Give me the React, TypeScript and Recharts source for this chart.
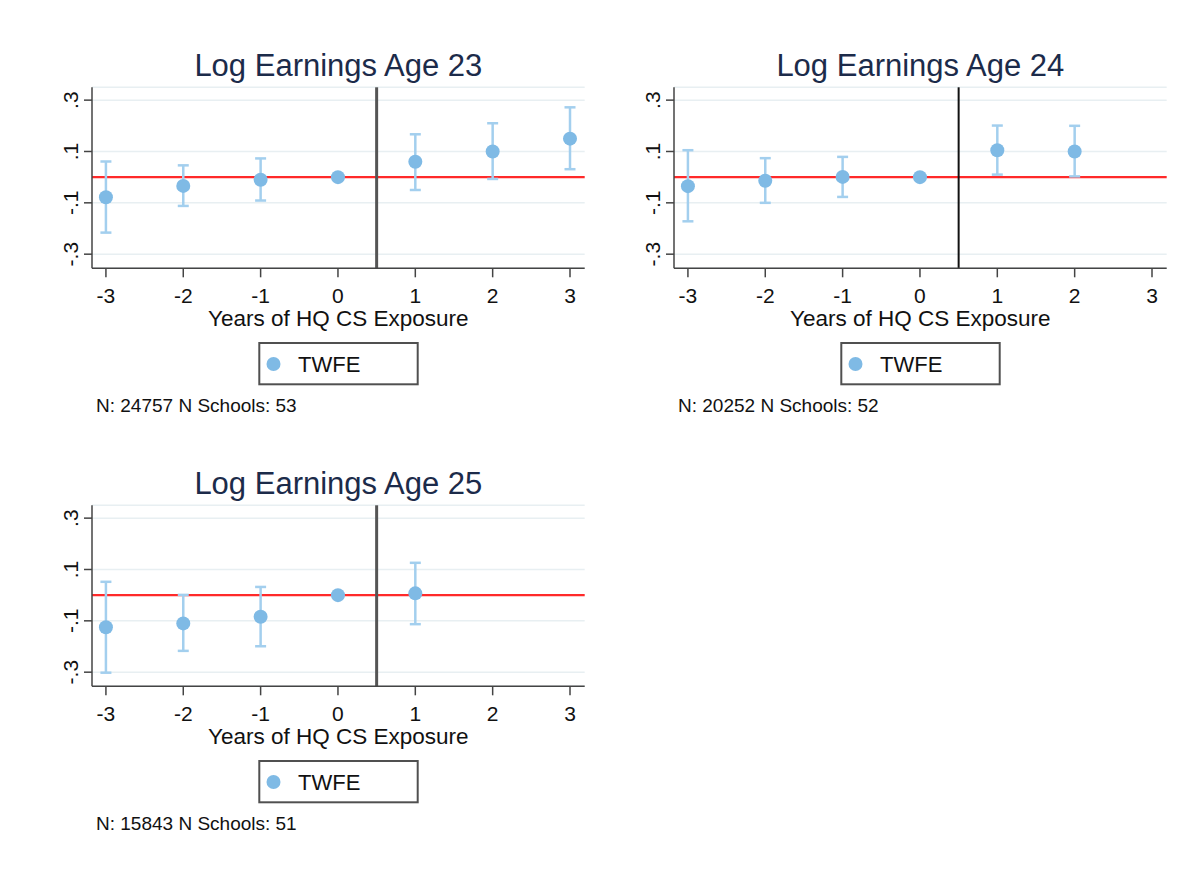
import React from 'react';
import { ComposedChart, Scatter, ErrorBar, XAxis, YAxis, CartesianGrid, ReferenceLine } from 'recharts';

const FONT = '"Liberation Sans", Arial, Helvetica, sans-serif';

// ---- data ----
const xTicks = [-3, -2, -1, 0, 1, 2, 3];
const yTicks = [-0.3, -0.1, 0.1, 0.3];
const yTickLabels = ['-.3', '-.1', '.1', '.3'];

const titles = ['Log Earnings Age 23', 'Log Earnings Age 24', 'Log Earnings Age 25'];
const notes = ['N: 24757 N Schools: 53', 'N: 20252 N Schools: 52', 'N: 15843 N Schools: 51'];
const xTitle = 'Years of HQ CS Exposure';
const legendLabel = 'TWFE';

const age23X = [-3, -2, -1, 0, 1, 2, 3];
const age23Est = [-0.078, -0.034, -0.01, 0, 0.06, 0.1, 0.15];
const age23Lo = [-0.216, -0.112, -0.091, null, -0.05, -0.007, 0.031];
const age23Hi = [0.061, 0.046, 0.073, null, 0.167, 0.21, 0.272];

const age24X = [-3, -2, -1, 0, 1, 2];
const age24Est = [-0.035, -0.014, 0.001, 0, 0.105, 0.1];
const age24Lo = [-0.172, -0.1, -0.077, null, 0.01, 0.003];
const age24Hi = [0.105, 0.074, 0.079, null, 0.201, 0.2];

const age25X = [-3, -2, -1, 0, 1];
const age25Est = [-0.125, -0.11, -0.084, 0, 0.007];
const age25Lo = [-0.302, -0.217, -0.199, null, -0.113];
const age25Hi = [0.052, 0.001, 0.032, null, 0.126];

type Row = { x: number; y: number; err: number[] | null };
function build(xs: number[], est: number[], lo: (number | null)[], hi: (number | null)[]): Row[] {
  return xs.map((x, i) => ({
    x,
    y: est[i],
    err: lo[i] == null || hi[i] == null ? null : [est[i] - (lo[i] as number), (hi[i] as number) - est[i]],
  }));
}

const panels = [
  { data: build(age23X, age23Est, age23Lo, age23Hi), dx: 0, dy: 0, vColor: '#555555', vWidth: 3 },
  { data: build(age24X, age24Est, age24Lo, age24Hi), dx: 582, dy: 0, vColor: '#111111', vWidth: 2 },
  { data: build(age25X, age25Est, age25Lo, age25Hi), dx: 0, dy: 418, vColor: '#555555', vWidth: 3 },
];

const POINT = '#7fbae5';
const ERR = '#a3cfee';

const YTick = (props: any) => {
  const { x, y, payload } = props;
  const idx = yTicks.findIndex((t) => Math.abs(t - payload.value) < 1e-9);
  return (
    <text
      x={x}
      y={y}
      transform={`rotate(-90 ${x} ${y})`}
      textAnchor="middle"
      fontSize={21}
      fill="#111"
      fontFamily={FONT}
    >
      {idx >= 0 ? yTickLabels[idx] : ''}
    </text>
  );
};

const Dot = (props: any) => {
  const { cx, cy } = props;
  if (cx == null || cy == null) return null;
  return <circle cx={cx} cy={cy} r={7} fill={POINT} />;
};

function Panel({ data, dx, dy, vColor, vWidth }: any) {
  return (
    <div style={{ position: 'absolute', left: dx, top: dy }}>
      <ComposedChart
        width={620}
        height={340}
        data={data}
        margin={{ top: 87.3, right: 35.3, bottom: 11.7, left: 32 }}
      >
        <CartesianGrid vertical={false} stroke="#e8eff2" strokeWidth={1.5} />
        <XAxis
          type="number"
          dataKey="x"
          domain={[-3.18, 3.19]}
          ticks={xTicks}
          allowDataOverflow
          interval={0}
          height={60}
          tickSize={9}
          tickMargin={11}
          tick={{ fontSize: 21, fill: '#111', fontFamily: FONT }}
          axisLine={{ stroke: '#444', strokeWidth: 1.5 }}
          tickLine={{ stroke: '#444', strokeWidth: 1.5 }}
        />
        <YAxis
          type="number"
          dataKey="y"
          domain={[-0.355, 0.35]}
          ticks={yTicks}
          allowDataOverflow
          interval={0}
          width={60}
          tickSize={8}
          tickMargin={6}
          tick={<YTick />}
          axisLine={{ stroke: '#444', strokeWidth: 1.5 }}
          tickLine={{ stroke: '#444', strokeWidth: 1.5 }}
        />
        <ReferenceLine y={0} stroke="#ff2a2a" strokeWidth={2.2} />
        <ReferenceLine x={0.5} stroke={vColor} strokeWidth={vWidth} />
        <Scatter data={data} dataKey="y" fill={POINT} shape={<Dot />} isAnimationActive={false}>
          <ErrorBar dataKey="err" direction="y" width={5.5} stroke={ERR} strokeWidth={2.5} isAnimationActive={false} />
        </Scatter>
      </ComposedChart>
    </div>
  );
}

export default function App() {
  return (
    <div style={{ position: 'absolute', left: 0, top: 0, width: 1203, height: 874, background: '#fff', overflow: 'hidden' }}>
      {panels.map((p, i) => (
        <Panel key={i} {...p} />
      ))}
      <svg width={1203} height={874} style={{ position: 'absolute', left: 0, top: 0, pointerEvents: 'none' }}>
        {panels.map((p, i) => (
          <g key={i} transform={`translate(${p.dx} ${p.dy})`} fontFamily={FONT}>
            <text x={338.3} y={76} textAnchor="middle" fontSize={31} fill="#1c2b4a">
              {titles[i]}
            </text>
            <text x={338.3} y={326} textAnchor="middle" fontSize={22.5} fill="#111">
              {xTitle}
            </text>
            <rect x={259.3} y={343} width={158.4} height={41.3} fill="#fff" stroke="#505050" strokeWidth={2} />
            <circle cx={273.5} cy={364} r={7} fill={POINT} />
            <text x={298} y={372} fontSize={22} fill="#111">
              {legendLabel}
            </text>
            <text x={96} y={411.7} fontSize={19} fill="#111">
              {notes[i]}
            </text>
          </g>
        ))}
      </svg>
    </div>
  );
}
